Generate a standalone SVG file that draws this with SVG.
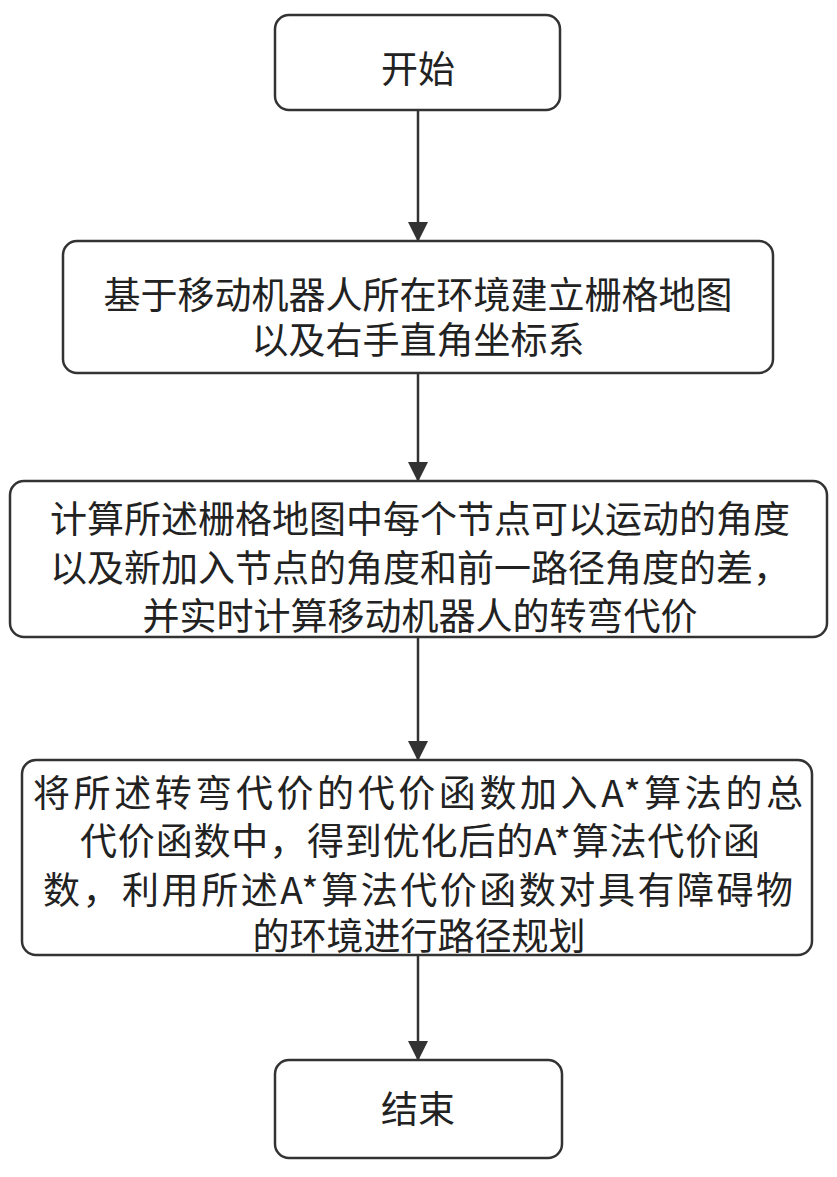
<svg xmlns="http://www.w3.org/2000/svg" width="837" height="1177" viewBox="0 0 837 1177">
<style>
rect{fill:#fff;stroke:#333;stroke-width:2.5}
text{font-family:"Noto Sans CJK SC","Noto Sans",sans-serif;fill:#222;text-anchor:middle;font-size:37px}
.c{stroke:#333;stroke-width:2.5;fill:none}
</style>
<defs><marker id="b" markerWidth="20" markerHeight="24" refX="18" refY="10" orient="auto" markerUnits="userSpaceOnUse" viewBox="0 0 20 20"><path d="M0,0L20,10L0,20z" fill="#333"/></marker></defs>
<rect width="837" height="1177" style="fill:#fff;stroke:none"/>
<g id="edges">
<line class="c" x1="418" y1="110" x2="418" y2="240" marker-end="url(#b)"/>
<line class="c" x1="418" y1="373" x2="418" y2="480" marker-end="url(#b)"/>
<line class="c" x1="418" y1="637" x2="418" y2="759" marker-end="url(#b)"/>
<line class="c" x1="418" y1="955" x2="418" y2="1059" marker-end="url(#b)"/>
</g>
<g id="n1"><rect x="275" y="15" width="285" height="95" rx="14"/><text x="418" y="83">开始</text></g>
<g id="n2"><rect x="63" y="241" width="710" height="132" rx="14"/><text x="418" y="309">基于移动机器人所在环境建立栅格地图</text><text x="418" y="354">以及右手直角坐标系</text></g>
<g id="n3"><rect x="10" y="481" width="817" height="156" rx="14"/><text x="420" y="533">计算所述栅格地图中每个节点可以运动的角度</text><text x="420" y="582">以及新加入节点的角度和前一路径角度的差，</text><text x="420" y="630">并实时计算移动机器人的转弯代价</text></g>
<g id="n4"><rect x="22" y="760" width="790" height="195" rx="14"/><text x="418" y="807" textLength="770" lengthAdjust="spacing">将所述转弯代价的代价函数加入A*算法的总</text><text x="420" y="855" textLength="680" lengthAdjust="spacing">代价函数中，得到优化后的A*算法代价函</text><text x="418" y="904" textLength="750" lengthAdjust="spacing">数，利用所述A*算法代价函数对具有障碍物</text><text x="419" y="950">的环境进行路径规划</text></g>
<g id="n5"><rect x="275" y="1060" width="287" height="98" rx="14"/><text x="418" y="1123">结束</text></g>
</svg>
